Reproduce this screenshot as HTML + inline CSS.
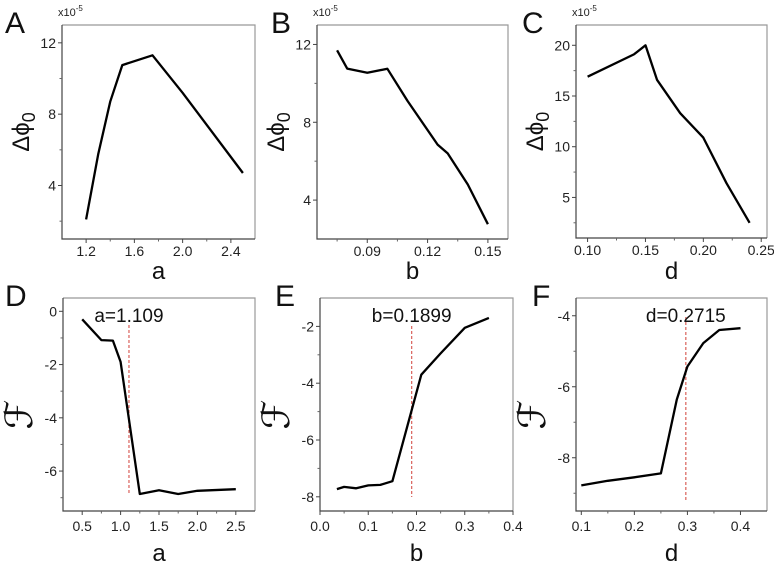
<!DOCTYPE html>
<html><head><meta charset="utf-8"><style>
html,body{margin:0;padding:0;background:#fff;}
svg{display:block;font-family:"Liberation Sans",Arial,sans-serif;}
</style></head><body>
<svg id="fig" width="774" height="567" viewBox="0 0 774 567"></svg>
<script>
// Panel A
const aX = [1.2, 1.3, 1.4, 1.5, 1.75, 2.0, 2.5];
const aY = [2.1, 5.75, 8.7, 10.75, 11.3, 9.2, 4.7];
const aXTicks = ["1.2", "1.6", "2.0", "2.4"];
const aYTicks = ["4", "8", "12"];
// Panel B
const bX = [0.075, 0.08, 0.09, 0.1, 0.11, 0.125, 0.13, 0.14, 0.15];
const bY = [11.7, 10.76, 10.55, 10.75, 9.1, 6.85, 6.4, 4.8, 2.76];
const bXTicks = ["0.09", "0.12", "0.15"];
const bYTicks = ["4", "8", "12"];
// Panel C
const cX = [0.10, 0.14, 0.15, 0.16, 0.18, 0.20, 0.22, 0.24];
const cY = [16.9, 19.1, 20.0, 16.6, 13.3, 10.9, 6.4, 2.5];
const cXTicks = ["0.10", "0.15", "0.20", "0.25"];
const cYTicks = ["5", "10", "15", "20"];
// Panel D
const dX = [0.5, 0.75, 0.9, 1.0, 1.25, 1.5, 1.75, 2.0, 2.5];
const dY = [-0.3, -1.08, -1.1, -1.9, -6.86, -6.72, -6.86, -6.74, -6.68];
const dXTicks = ["0.5", "1.0", "1.5", "2.0", "2.5"];
const dYTicks = ["-6", "-4", "-2", "0"];
const dMarker = [1.109];
// Panel E
const eX = [0.035, 0.05, 0.075, 0.1, 0.125, 0.15, 0.21, 0.25, 0.3, 0.35];
const eY = [-7.73, -7.65, -7.7, -7.6, -7.58, -7.45, -3.7, -2.95, -2.05, -1.7];
const eXTicks = ["0.0", "0.1", "0.2", "0.3", "0.4"];
const eYTicks = ["-8", "-6", "-4", "-2"];
const eMarker = [0.19];
// Panel F
const fX = [0.1, 0.15, 0.2, 0.25, 0.28, 0.3, 0.33, 0.36, 0.4];
const fY = [-8.78, -8.65, -8.55, -8.44, -6.36, -5.43, -4.77, -4.4, -4.35];
const fXTicks = ["0.1", "0.2", "0.3", "0.4"];
const fYTicks = ["-8", "-6", "-4"];
const fMarker = [0.297];

const NS = "http://www.w3.org/2000/svg";
const svg = document.getElementById("fig");
function mk(tag, attrs, parent, text) {
  const el = document.createElementNS(NS, tag);
  for (const k in attrs) el.setAttribute(k, attrs[k]);
  if (text !== undefined) el.textContent = text;
  (parent || svg).appendChild(el);
  return el;
}

function panel(o) {
  const g = mk("g", {});
  
  
  const sx = v => o.px0 + (v - o.x0) / (o.x1 - o.x0) * (o.px1 - o.px0);
  const sy = v => o.py1 - (v - o.y0) / (o.y1 - o.y0) * (o.py1 - o.py0);
  const fr = mk("path", {d:`M${o.px0},${o.py0}H${o.px1}V${o.py1}`, fill:"none", stroke:"#999", "stroke-width":1.2}, g);
  
  
  const ax = mk("path", {d:`M${o.px0},${o.py0}V${o.py1}H${o.px1}`, fill:"none", stroke:"#444", "stroke-width":1.2}, g);
  
  
  o.xt.forEach((t, i) => {
    const v = parseFloat(t), x = sx(v);
    mk("line", {x1:x, x2:x, y1:o.py1, y2:o.py1+4, stroke:"#444"}, g);
    const tx = mk("text", {x:x, y:o.py1+o.tlo, "text-anchor":"middle", "font-size":14, fill:"#222"}, g, t);
    
    
    const mv = v + o.xstep / 2;
    if (mv < o.x1) { const mx = sx(mv); mk("line", {x1:mx, x2:mx, y1:o.py1, y2:o.py1+2.5, stroke:"#666"}, g); }
    if (i === 0) { const mv2 = v - o.xstep / 2; if (mv2 > o.x0) { const mx = sx(mv2); mk("line", {x1:mx, x2:mx, y1:o.py1, y2:o.py1+2.5, stroke:"#666"}, g); } }
  });
  o.yt.forEach((t, i) => {
    const v = parseFloat(t), y = sy(v);
    mk("line", {x1:o.px0-4, x2:o.px0, y1:y, y2:y, stroke:"#444"}, g);
    const ty = mk("text", {x:o.px0-6, y:y+5, "text-anchor":"end", "font-size":14, fill:"#222"}, g, t);
    
    
    const mv = v + o.ystep / 2;
    if (mv < o.y1) { const my = sy(mv); mk("line", {x1:o.px0-2.5, x2:o.px0, y1:my, y2:my, stroke:"#666"}, g); }
    if (i === 0) { const mv2 = v - o.ystep / 2; if (mv2 > o.y0) { const my = sy(mv2); mk("line", {x1:o.px0-2.5, x2:o.px0, y1:my, y2:my, stroke:"#666"}, g); } }
  });
  if (o.marker) {
    const mx = sx(o.marker[0]);
    const ml = mk("line", {x1:mx, x2:mx, y1:o.my0, y2:o.my1, stroke:"#d9605a", "stroke-width":1.2, "stroke-dasharray":"3,2"}, g);
    
    
    const mt = mk("text", {x:mx, y:o.py0+24, "text-anchor":"middle", "font-size":19, fill:"#111"}, g, o.mlabel);
    
    
  }
  const d = o.xs.map((x, i) => (i ? "L" : "M") + sx(x).toFixed(1) + "," + sy(o.ys[i]).toFixed(1)).join("");
  const ln = mk("path", {d, fill:"none", stroke:"#000", "stroke-width":2.3, "stroke-linejoin":"round"}, g);
  
  
  const pl = mk("text", {x:o.lx, y:o.py0+8, "font-size":30, fill:"#111"}, g, o.id);
  
  
  const xtl = mk("text", {x:(o.px0+o.px1)/2, y:o.py1+o.xto, "text-anchor":"middle", "font-size":24, fill:"#111"}, g, o.xtitle);
  
  
  const cy = (o.py0 + o.py1) / 2, cx = o.px0 - 33;
  if (o.sci) {
    const yt = mk("text", {x:0, y:0, "text-anchor":"middle", "font-size":24, fill:"#111", transform:`translate(${cx},${cy}) rotate(-90)`}, g);
    
    
    mk("tspan", {}, yt, "Δϕ");
    mk("tspan", {"font-size":18, dy:6}, yt, "0");
    const sc = mk("text", {x:o.px0-4, y:o.py0-9, "font-size":11, fill:"#222"}, g);
    
    
    mk("tspan", {}, sc, "x10");
    mk("tspan", {"font-size":8, dy:-5}, sc, "-5");
  } else {
    const yt = mk("text", {x:0, y:0, "text-anchor":"middle", "font-size":38, "font-family":"'DejaVu Serif','Liberation Serif',serif", fill:"#111", transform:`translate(${cx+2},${cy+10}) rotate(-90)`}, g, "ℱ");
    
    
  }
}

panel({id:"A", xs:aX, ys:aY, xt:aXTicks, yt:aYTicks, x0:1.0, x1:2.6, y0:1, y1:13, xstep:0.4, ystep:4, px0:62, px1:255, py0:25, py1:239, lx:5, xtitle:"a", tlo:17, xto:40, sci:true});
panel({id:"B", xs:bX, ys:bY, xt:bXTicks, yt:bYTicks, x0:0.065, x1:0.16, y0:2, y1:13, xstep:0.03, ystep:4, px0:317, px1:508, py0:25, py1:239, lx:271, xtitle:"b", tlo:17, xto:40, sci:true});
panel({id:"C", xs:cX, ys:cY, xt:cXTicks, yt:cYTicks, x0:0.09, x1:0.255, y0:1, y1:22, xstep:0.05, ystep:5, px0:576, px1:767, py0:25, py1:238, lx:522, xtitle:"d", tlo:17, xto:41, sci:true});
panel({id:"D", xs:dX, ys:dY, xt:dXTicks, yt:dYTicks, x0:0.25, x1:2.75, y0:-7.5, y1:0.5, xstep:0.5, ystep:2, px0:63, px1:255, py0:298, py1:511, lx:5, xtitle:"a", tlo:20, xto:50, marker:dMarker, mlabel:"a=1.109", my0:325, my1:495});
panel({id:"E", xs:eX, ys:eY, xt:eXTicks, yt:eYTicks, x0:0, x1:0.4, y0:-8.5, y1:-1, xstep:0.1, ystep:2, px0:320, px1:513, py0:298, py1:511, lx:275, xtitle:"b", tlo:20, xto:50, marker:eMarker, mlabel:"b=0.1899", my0:326, my1:497});
panel({id:"F", xs:fX, ys:fY, xt:fXTicks, yt:fYTicks, x0:0.09, x1:0.45, y0:-9.5, y1:-3.5, xstep:0.1, ystep:2, px0:576, px1:767, py0:298, py1:511, lx:532, xtitle:"d", tlo:20, xto:50, marker:fMarker, mlabel:"d=0.2715", my0:317, my1:500});
</script>
</body></html>
